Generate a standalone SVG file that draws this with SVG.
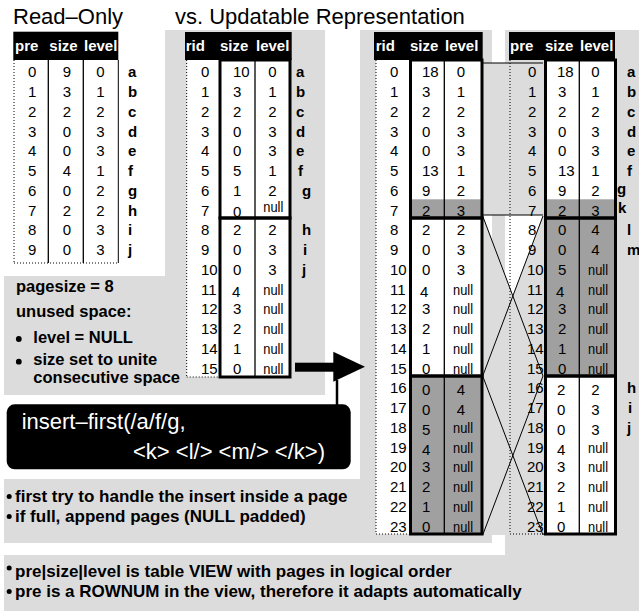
<svg xmlns="http://www.w3.org/2000/svg" width="639" height="611" viewBox="0 0 639 611">
<style>
text{font-family:"Liberation Sans",Arial,Helvetica,sans-serif;font-size:15px;fill:#000}
.ti{font-size:22px}
.h{font-weight:bold;fill:#fff}
.b{font-weight:bold}
.m{text-anchor:middle}
.n{text-anchor:middle}
.bt{font-weight:bold;font-size:16.5px}
.bb{font-weight:bold;font-size:17px}
.cmd{font-size:22px;fill:#fff}
.lg{fill:#dcdcdc}
.dg{fill:#a0a0a0}
.dot{stroke:#000;stroke-width:1;stroke-dasharray:1 2;fill:none}
.thin{stroke:#000;stroke-width:1.3;fill:none}
.thk{stroke:#000;stroke-width:3;fill:none}
.ln{stroke:#000;stroke-width:1;fill:none}
</style>

<!-- background panels -->
<g id="panels">
<path class="lg" d="M165 30H325V395H4V276H165Z"/>
<rect class="lg" x="360" y="30" width="132" height="513"/>
<rect class="lg" x="505" y="30" width="134" height="581"/>
<rect class="lg" x="4" y="479" width="356" height="64"/>
<rect class="lg" x="4" y="555" width="635" height="56"/>
</g>

<g id="title">
<text class="ti" x="13" y="24">Read–Only</text>
<text class="ti" x="175" y="24">vs. Updatable Representation</text>
</g>

<!-- Table 1: read-only -->
<g id="table-readonly">
<rect x="13.3" y="31.7" width="105" height="28.3" fill="#000"/>
<text class="h" x="15" y="50.7">pre</text><text class="h" x="49.3" y="50.7">size</text><text class="h" x="84" y="50.7">level</text>
<line class="dot" x1="14" y1="60" x2="14" y2="263"/>
<line class="dot" x1="14" y1="263" x2="118.3" y2="263"/>
<line class="thin" x1="48.3" y1="60" x2="48.3" y2="263"/>
<line class="thin" x1="83.3" y1="60" x2="83.3" y2="263"/>
<line class="ln" x1="118.3" y1="60" x2="118.3" y2="263"/>
<g class="m">
<text x="32.2" y="77.3">0</text><text x="32.2" y="97">1</text><text x="32.2" y="116.8">2</text><text x="32.2" y="136.5">3</text><text x="32.2" y="156.3">4</text><text x="32.2" y="176">5</text><text x="32.2" y="195.8">6</text><text x="32.2" y="215.5">7</text><text x="32.2" y="235.3">8</text><text x="32.2" y="255">9</text>
<text x="67" y="77.3">9</text><text x="67" y="97">3</text><text x="67" y="116.8">2</text><text x="67" y="136.5">0</text><text x="67" y="156.3">0</text><text x="67" y="176">4</text><text x="67" y="195.8">0</text><text x="67" y="215.5">2</text><text x="67" y="235.3">0</text><text x="67" y="255">0</text>
<text x="100.3" y="77.3">0</text><text x="100.3" y="97">1</text><text x="100.3" y="116.8">2</text><text x="100.3" y="136.5">3</text><text x="100.3" y="156.3">3</text><text x="100.3" y="176">1</text><text x="100.3" y="195.8">2</text><text x="100.3" y="215.5">2</text><text x="100.3" y="235.3">3</text><text x="100.3" y="255">3</text>
</g>
<g class="b">
<text x="128" y="77.3">a</text><text x="128" y="97">b</text><text x="128" y="116.8">c</text><text x="128" y="136.5">d</text><text x="128" y="156.3">e</text><text x="128" y="176">f</text><text x="128" y="195.8">g</text><text x="128" y="215.5">h</text><text x="128" y="235.3">i</text><text x="128" y="255">j</text>
</g>
</g>

<!-- Table 2: rid before insert -->
<g id="table-rid-before">
<rect x="186.7" y="60" width="102.6" height="317" fill="#fff"/>
<rect x="185" y="32" width="106.7" height="28" fill="#000"/>
<text class="h" x="185.7" y="50.7">rid</text><text class="h" x="220" y="50.7">size</text><text class="h" x="256" y="50.7">level</text>
<line class="dot" x1="186.7" y1="60" x2="186.7" y2="377"/>
<line class="dot" x1="186.7" y1="377" x2="220" y2="377"/>
<line class="thin" x1="255" y1="60" x2="255" y2="377"/>
<rect class="thk" x="220" y="60" width="70" height="158"/>
<rect class="thk" x="220" y="218" width="70" height="159"/>
<g>
<text x="201" y="77.3">0</text><text x="201" y="97">1</text><text x="201" y="116.8">2</text><text x="201" y="136.5">3</text><text x="201" y="156.3">4</text><text x="201" y="176">5</text><text x="201" y="195.8">6</text><text x="201" y="215.5">7</text><text x="201" y="235.3">8</text><text x="201" y="255">9</text><text x="201" y="274.8">10</text><text x="201" y="294.5">11</text><text x="201" y="314.3">12</text><text x="201" y="334">13</text><text x="201" y="353.8">14</text><text x="201" y="373.5">15</text>
<text x="233" y="77.3">10</text><text x="233" y="97">3</text><text x="233" y="116.8">2</text><text x="233" y="136.5">0</text><text x="233" y="156.3">0</text><text x="233" y="176">5</text><text x="233" y="195.8">1</text><text x="233" y="217">0</text><text x="233" y="235.3">2</text><text x="233" y="255">0</text><text x="233" y="274.8">0</text><text x="232" y="297">4</text><text x="233" y="314.3">3</text><text x="233" y="334">2</text><text x="233" y="353.8">1</text><text x="233" y="373.5">0</text>
</g>
<g class="m">
<text x="272.5" y="77.3">0</text><text x="272.5" y="97">1</text><text x="272.5" y="116.8">2</text><text x="272.5" y="136.5">3</text><text x="272.5" y="156.3">3</text><text x="272.5" y="176">1</text><text x="272.5" y="195.8">2</text><text x="272.5" y="235.3">2</text><text x="272.5" y="255">3</text><text x="272.5" y="274.8">3</text>
</g>
<g class="n">
<text x="273.3" y="212" textLength="20" lengthAdjust="spacingAndGlyphs">null</text><text x="273.3" y="294.5" textLength="20" lengthAdjust="spacingAndGlyphs">null</text><text x="273.3" y="314.3" textLength="20" lengthAdjust="spacingAndGlyphs">null</text><text x="273.3" y="334" textLength="20" lengthAdjust="spacingAndGlyphs">null</text><text x="273.3" y="353.8" textLength="20" lengthAdjust="spacingAndGlyphs">null</text><text x="273.3" y="373.5" textLength="20" lengthAdjust="spacingAndGlyphs">null</text>
</g>
<g class="b">
<text x="296" y="77.3">a</text><text x="296" y="97">b</text><text x="296" y="116.8">c</text><text x="296" y="136.5">d</text><text x="296" y="156.3">e</text><text x="298" y="176">f</text><text x="302" y="195.8">g</text><text x="302" y="235.3">h</text><text x="303" y="255">i</text><text x="302" y="274.8">j</text>
</g>
</g>

<!-- connectors between rid pages and pre pages (drawn under the tables) -->
<g id="connectors">
<rect class="lg" x="482.7" y="63" width="60.3" height="472"/>
<path d="M482.7 215H543L512.8 296Z" fill="#fff"/>
<path class="lg" d="M492 215H505V275.2L492 240.7Z"/>
<line class="ln" x1="482.7" y1="63" x2="543" y2="63"/>
<line class="ln" x1="482.7" y1="215" x2="543" y2="215"/>
<line class="ln" x1="482.7" y1="216" x2="543" y2="376"/>
<line class="ln" x1="482.7" y1="376" x2="543" y2="216"/>
<line class="ln" x1="482.7" y1="376" x2="543" y2="535"/>
<line class="ln" x1="482.7" y1="535" x2="543" y2="376"/>
</g>

<!-- Table 3: rid after insert -->
<g id="table-rid-after">
<rect x="376" y="60" width="106" height="474" fill="#fff"/>
<rect class="dg" x="410" y="199.3" width="72" height="18.7"/>
<rect class="dg" x="410" y="376" width="72" height="158"/>
<rect x="374" y="32" width="108.7" height="28" fill="#000"/>
<text class="h" x="375.7" y="50.7">rid</text><text class="h" x="410" y="50.7">size</text><text class="h" x="445" y="50.7">level</text>
<line class="dot" x1="376" y1="60" x2="376" y2="534"/>
<line class="dot" x1="376" y1="534" x2="410" y2="534"/>
<line class="thin" x1="444.3" y1="60" x2="444.3" y2="534"/>
<rect class="thk" x="410.5" y="60" width="71.5" height="158"/>
<rect class="thk" x="410.5" y="218" width="71.5" height="158"/>
<rect class="thk" x="410.5" y="376" width="71.5" height="158"/>
<g>
<text x="390" y="77.3">0</text><text x="390" y="97">1</text><text x="390" y="116.8">2</text><text x="390" y="136.5">3</text><text x="390" y="156.3">4</text><text x="390" y="176">5</text><text x="390" y="195.8">6</text><text x="390" y="215.5">7</text><text x="390" y="235.3">8</text><text x="390" y="255">9</text><text x="390" y="274.8">10</text><text x="390" y="294.5">11</text><text x="390" y="314.3">12</text><text x="390" y="334">13</text><text x="390" y="353.8">14</text><text x="390" y="373.5">15</text><text x="390" y="393.3">16</text><text x="390" y="413">17</text><text x="390" y="432.8">18</text><text x="390" y="452.5">19</text><text x="390" y="472.3">20</text><text x="390" y="492">21</text><text x="390" y="511.8">22</text><text x="390" y="531.5">23</text>
<text x="422" y="77.3">18</text><text x="422" y="97">3</text><text x="422" y="116.8">2</text><text x="422" y="136.5">0</text><text x="422" y="156.3">0</text><text x="422" y="176">13</text><text x="422" y="195.8">9</text><text x="422" y="215.5">2</text><text x="422" y="235.3">2</text><text x="422" y="255">0</text><text x="422" y="274.8">0</text><text x="420" y="297">4</text><text x="422" y="314.3">3</text><text x="422" y="334">2</text><text x="422" y="353.8">1</text><text x="422" y="373.5">0</text><text x="422" y="395">0</text><text x="422" y="415">0</text><text x="422" y="435">5</text><text x="422" y="455">4</text><text x="422" y="472.3">3</text><text x="422" y="492">2</text><text x="422" y="511.8">1</text><text x="422" y="531.5">0</text>
</g>
<g class="m">
<text x="461" y="77.3">0</text><text x="461" y="97">1</text><text x="461" y="116.8">2</text><text x="461" y="136.5">3</text><text x="461" y="156.3">3</text><text x="461" y="176">1</text><text x="461" y="195.8">2</text><text x="461" y="215.5">3</text><text x="461" y="235.3">2</text><text x="461" y="255">3</text><text x="461" y="274.8">3</text><text x="461" y="395">4</text><text x="461" y="415">4</text>
</g>
<g class="n">
<text x="463" y="294.5" textLength="20" lengthAdjust="spacingAndGlyphs">null</text><text x="463" y="314.3" textLength="20" lengthAdjust="spacingAndGlyphs">null</text><text x="463" y="334" textLength="20" lengthAdjust="spacingAndGlyphs">null</text><text x="463" y="353.8" textLength="20" lengthAdjust="spacingAndGlyphs">null</text><text x="463" y="373.5" textLength="20" lengthAdjust="spacingAndGlyphs">null</text><text x="463" y="432.8" textLength="20" lengthAdjust="spacingAndGlyphs">null</text><text x="463" y="452.5" textLength="20" lengthAdjust="spacingAndGlyphs">null</text><text x="463" y="472.3" textLength="20" lengthAdjust="spacingAndGlyphs">null</text><text x="463" y="492" textLength="20" lengthAdjust="spacingAndGlyphs">null</text><text x="463" y="511.8" textLength="20" lengthAdjust="spacingAndGlyphs">null</text><text x="463" y="531.5" textLength="20" lengthAdjust="spacingAndGlyphs">null</text>
</g>
</g>

<!-- Table 4: pre view after insert -->
<g id="table-pre-after">
<rect x="545" y="60" width="71" height="474" fill="#fff"/>
<rect class="dg" x="545" y="199.3" width="71" height="18.7"/>
<rect class="dg" x="545" y="218" width="71" height="158"/>
<rect x="509" y="32" width="106" height="28" fill="#000"/>
<text class="h" x="510" y="50.7">pre</text><text class="h" x="545" y="50.7">size</text><text class="h" x="580" y="50.7">level</text>
<line class="dot" x1="510" y1="60" x2="510" y2="534"/>
<line class="dot" x1="510" y1="534" x2="545" y2="534"/>
<line class="thin" x1="579.3" y1="60" x2="579.3" y2="534"/>
<rect class="thk" x="545.5" y="60" width="70" height="158"/>
<rect class="thk" x="545.5" y="218" width="70" height="158"/>
<rect class="thk" x="545.5" y="376" width="70" height="158"/>
<g>
<text x="528" y="77.3">0</text><text x="528" y="97">1</text><text x="528" y="116.8">2</text><text x="528" y="136.5">3</text><text x="528" y="156.3">4</text><text x="528" y="176">5</text><text x="528" y="195.8">6</text><text x="528" y="215.5">7</text><text x="528" y="235.3">8</text><text x="528" y="255">9</text><text x="527" y="274.8">10</text><text x="527" y="294.5">11</text><text x="527" y="314.3">12</text><text x="527" y="334">13</text><text x="527" y="353.8">14</text><text x="527" y="373.5">15</text><text x="527" y="393.3">16</text><text x="527" y="413">17</text><text x="527" y="432.8">18</text><text x="527" y="452.5">19</text><text x="527" y="472.3">20</text><text x="527" y="492">21</text><text x="527" y="511.8">22</text><text x="527" y="531.5">23</text>
<text x="557" y="77.3">18</text><text x="558" y="97">3</text><text x="558" y="116.8">2</text><text x="558" y="136.5">0</text><text x="558" y="156.3">0</text><text x="558" y="176">13</text><text x="558" y="195.8">9</text><text x="558" y="215.5">2</text><text x="558" y="235.3">0</text><text x="558" y="255">0</text><text x="558" y="274.8">5</text><text x="556" y="297">4</text><text x="558" y="314.3">3</text><text x="558" y="334">2</text><text x="558" y="353.8">1</text><text x="558" y="373.5">0</text><text x="557" y="395">2</text><text x="557" y="415">0</text><text x="557" y="435">0</text><text x="557" y="455">4</text><text x="557" y="472.3">3</text><text x="557" y="492">2</text><text x="557" y="511.8">1</text><text x="557" y="531.5">0</text>
</g>
<g class="m">
<text x="595.5" y="77.3">0</text><text x="595.5" y="97">1</text><text x="595.5" y="116.8">2</text><text x="595.5" y="136.5">3</text><text x="595.5" y="156.3">3</text><text x="595.5" y="176">1</text><text x="595.5" y="195.8">2</text><text x="595.5" y="215.5">3</text><text x="595.5" y="235.3">4</text><text x="595.5" y="255">4</text><text x="595.5" y="395">2</text><text x="595.5" y="415">3</text><text x="595.5" y="435">3</text>
</g>
<g class="n">
<text x="598" y="274.8" textLength="20" lengthAdjust="spacingAndGlyphs">null</text><text x="598" y="294.5" textLength="20" lengthAdjust="spacingAndGlyphs">null</text><text x="598" y="314.3" textLength="20" lengthAdjust="spacingAndGlyphs">null</text><text x="598" y="334" textLength="20" lengthAdjust="spacingAndGlyphs">null</text><text x="598" y="353.8" textLength="20" lengthAdjust="spacingAndGlyphs">null</text><text x="598" y="373.5" textLength="20" lengthAdjust="spacingAndGlyphs">null</text><text x="598" y="452.5" textLength="20" lengthAdjust="spacingAndGlyphs">null</text><text x="598" y="472.3" textLength="20" lengthAdjust="spacingAndGlyphs">null</text><text x="598" y="492" textLength="20" lengthAdjust="spacingAndGlyphs">null</text><text x="598" y="511.8" textLength="20" lengthAdjust="spacingAndGlyphs">null</text><text x="598" y="531.5" textLength="20" lengthAdjust="spacingAndGlyphs">null</text>
</g>
<g class="b">
<text x="627" y="77.3">a</text><text x="627" y="97">b</text><text x="627" y="116.8">c</text><text x="627" y="136.5">d</text><text x="627" y="156.3">e</text><text x="627" y="176">f</text><text x="617" y="194">g</text><text x="618" y="213.3">k</text><text x="627" y="235.3">l</text><text x="627" y="255">m</text><text x="627" y="393.3">h</text><text x="628" y="413">i</text><text x="627" y="432.8">j</text>
</g>
</g>

<!-- notes -->
<g id="note-pagesize">
<text class="bt" x="16" y="291.7">pagesize = 8</text>
<text class="bt" x="16" y="316.7">unused space:</text>
<circle cx="18.8" cy="339" r="2.9"/>
<text class="bt" x="33.3" y="343.3">level = NULL</text>
<circle cx="18.8" cy="361.7" r="2.9"/>
<text class="bt" x="33.3" y="365">size set to unite</text>
<text class="bt" x="33.3" y="383.3">consecutive space</text>
</g>

<g id="command">
<rect x="6.7" y="404.3" width="344" height="65" rx="8" fill="#000"/>
<text class="cmd" x="21.7" y="429">insert–first(/a/f/g,</text>
<text class="cmd" x="133" y="459.3">&lt;k&gt; &lt;l/&gt; &lt;m/&gt; &lt;/k&gt;)</text>
</g>

<g id="arrow">
<rect x="295" y="362.7" width="39" height="9"/>
<path d="M333.3 351.7L365 366.7L333.3 381.7Z"/>
<line x1="337" y1="380" x2="337" y2="405" stroke="#000" stroke-width="2.5"/>
</g>

<g id="note-insert">
<circle cx="9.2" cy="496.5" r="2.5"/>
<text class="bb" x="15" y="501.7">first try to handle the insert inside a page</text>
<circle cx="9.2" cy="516.5" r="2.5"/>
<text class="bb" x="15" y="521.7">if full, append pages (NULL padded)</text>
</g>

<g id="note-view">
<circle cx="9.2" cy="568" r="2.5"/>
<text class="bb" x="15" y="576.7">pre|size|level is table VIEW with pages in logical order</text>
<circle cx="9.2" cy="591.5" r="2.5"/>
<text class="bb" x="15" y="596.7">pre is a ROWNUM in the view, therefore it adapts automatically</text>
</g>
</svg>
